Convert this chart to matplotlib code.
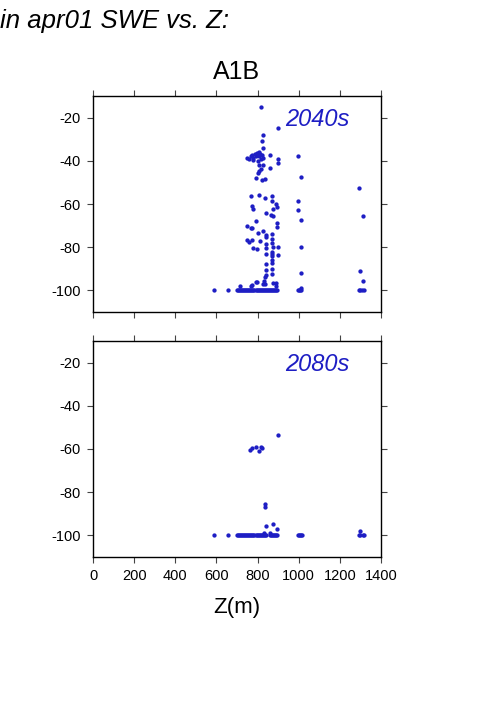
import matplotlib
matplotlib.use("Agg")
import matplotlib.pyplot as plt

plt.rcParams["font.family"] = ["Liberation Sans", "DejaVu Sans"]
plt.rcParams["axes.unicode_minus"] = False

# 2040s: elevation (m) and change in apr01 SWE (%)
z_2040 = [
    817, 898, 828, 821, 828,
    747, 756, 766, 771, 780, 787, 792, 796, 800, 805, 808, 812, 817, 821, 826, 779, 800,
    860, 898, 898, 998, 808, 828, 805, 818, 860, 803, 792, 821, 836, 1011, 1293,
    766, 808, 836, 868, 868, 998, 771, 779, 888, 893, 875, 841, 865, 875, 998, 1011, 1314,
    747, 766, 771, 791, 893, 893, 800, 828, 841, 841, 868,
    747, 756, 771, 812, 868, 872, 875, 872, 870,
    779, 796, 841, 841, 898, 1011, 841, 868, 868, 898,
    841, 841, 841, 868, 868, 868, 1011, 1298, 1314,
    831, 828, 796, 771, 714, 768, 791, 875, 888, 836, 836, 889, 1011,
    588, 658, 700, 705, 710, 715, 720, 725, 730, 735, 740, 745, 750, 755, 760, 765,
    770, 775, 780, 785, 790, 795, 800, 805, 810, 815, 820, 825, 830, 835, 840, 845,
    850, 855, 860, 865, 870, 875, 880, 885, 890, 895, 998, 1003, 1008, 1013,
    1293, 1298, 1310, 1316,
]
swe_2040 = [
    -15, -25, -28, -31, -34,
    -38.5, -39, -38, -37.5, -38.5, -37, -38, -36.5, -37.5, -36, -38, -37, -39, -37.5, -38.5, -39.5, -40,
    -37.5, -39, -41, -38, -42, -42, -44.5, -44, -43.5, -45.5, -48, -49, -48.5, -47.5, -52.5,
    -56.5, -56, -57, -56.5, -58.5, -58.5, -61, -62.5, -60, -61.5, -62.5, -64, -65, -65.5, -63, -67.5, -65.5,
    -70, -71, -71, -68, -69, -70.5, -73.5, -72.5, -74.5, -75.5, -74,
    -76.5, -77.5, -76.5, -77, -76, -78, -80, -83, -86,
    -80.5, -81, -80.5, -78.5, -80, -80, -83, -82, -84, -83.5,
    -88, -90.5, -93, -87.5, -90, -92.5, -92, -91, -95.5,
    -95.5, -97, -96, -97.5, -98, -98, -96, -96.5, -96.5, -94, -97, -98, -99,
    -100, -100, -100, -100, -100, -100, -100, -100, -100, -100, -100, -100, -100, -100, -100, -100,
    -100, -100, -100, -100, -100, -100, -100, -100, -100, -100, -100, -100, -100, -100, -100, -100,
    -100, -100, -100, -100, -100, -100, -100, -100, -100, -100, -100, -100, -100, -100,
    -100, -100, -100, -100,
]

# 2080s
z_2080 = [
    898, 763, 771, 792, 808, 815, 821,
    838, 838, 841, 875, 896, 1298, 830, 862,
    588, 658, 700, 705, 710, 715, 720, 725, 730, 735, 740, 745, 750, 755, 760, 765,
    770, 775, 780, 785, 790, 795, 800, 805, 810, 815, 820, 825, 830, 835, 840,
    860, 865, 870, 875, 880, 885, 890, 895, 995, 1000, 1005, 1010, 1015,
    1292, 1298, 1312, 1316,
]
swe_2080 = [
    -53.5, -60.5, -59.5, -59, -61, -59, -59.5,
    -85.5, -87, -95.5, -94.5, -97, -98, -99, -99,
    -100, -100, -100, -100, -100, -100, -100, -100, -100, -100, -100, -100, -100, -100, -100, -100,
    -100, -100, -100, -100, -100, -100, -100, -100, -100, -100, -100, -100, -100, -100, -100,
    -100, -100, -100, -100, -100, -100, -100, -100, -100, -100, -100, -100, -100,
    -100, -100, -100, -100,
]

decades = ["2040s", "2080s"]
x_ticks = [0, 200, 400, 600, 800, 1000, 1200, 1400]
y_ticks = [-20, -40, -60, -80, -100]
blue = "#1e1ec4"

fig = plt.figure(figsize=(5.01, 7.09), dpi=100)
ax1 = fig.add_axes([93 / 501, 1 - 312 / 709, 288 / 501, 216 / 709])
ax2 = fig.add_axes([93 / 501, 1 - 557 / 709, 288 / 501, 216 / 709])

for ax, z, swe, label in [(ax1, z_2040, swe_2040, decades[0]),
                          (ax2, z_2080, swe_2080, decades[1])]:
    ax.plot(z, swe, "o", ms=3.1, color=blue, mec="none")
    ax.set_xlim(0, 1400)
    ax.set_ylim(-110, -10)
    ax.set_xticks(x_ticks)
    ax.set_yticks(y_ticks)
    ax.tick_params(direction="out", length=4, width=0.8, top=True, right=True,
                   labelsize=10.5, pad=5, color="#444444")
    for s in ax.spines.values():
        s.set_linewidth(1.0)
    ax.text(0.892, 0.89, label, transform=ax.transAxes, ha="right", va="center",
            fontsize=17, style="italic", color=blue)

ax1.tick_params(labelbottom=False)
ax2.set_xlabel("Z(m)", fontsize=16, labelpad=10)
ax1.set_title("A1B", fontsize=18, pad=12)

fig.text(0.0, 1 - 21 / 709, "in apr01 SWE vs. Z:", fontsize=18.5, style="italic",
         ha="left", va="center")

fig.savefig("out.png", dpi=100)
